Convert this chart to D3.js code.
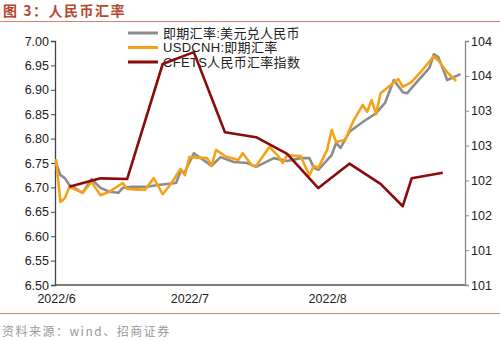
<!DOCTYPE html>
<html><head><meta charset="utf-8">
<script src="https://cdn.jsdelivr.net/npm/d3@7"></script>
<style>body{margin:0;background:#fff}svg{display:block}</style>
</head><body>
<svg id="c" width="500" height="341"></svg>
<script>
// ---- data ----
const spotDates = ["2022-06-01","2022-06-02","2022-06-03","2022-06-04","2022-06-07","2022-06-09","2022-06-11","2022-06-13","2022-06-15","2022-06-16","2022-06-18","2022-06-21","2022-06-24","2022-06-28","2022-06-29","2022-06-30","2022-07-02","2022-07-06","2022-07-08","2022-07-11","2022-07-14","2022-07-16","2022-07-20","2022-07-23","2022-07-26","2022-07-28","2022-07-29","2022-07-30","2022-08-02","2022-08-03","2022-08-04","2022-08-06","2022-08-09","2022-08-12","2022-08-14","2022-08-16","2022-08-18","2022-08-19","2022-08-20","2022-08-24","2022-08-25","2022-08-26","2022-08-28","2022-08-31"];
const spotValues = [6.750,6.725,6.719,6.705,6.689,6.717,6.699,6.691,6.689,6.699,6.701,6.701,6.705,6.709,6.732,6.732,6.770,6.744,6.762,6.752,6.750,6.742,6.760,6.754,6.760,6.760,6.740,6.736,6.766,6.791,6.781,6.814,6.834,6.852,6.873,6.920,6.895,6.893,6.904,6.945,6.973,6.967,6.920,6.932];
const cnhDates = ["2022-06-01","2022-06-02","2022-06-03","2022-06-04","2022-06-07","2022-06-09","2022-06-11","2022-06-13","2022-06-16","2022-06-17","2022-06-21","2022-06-23","2022-06-25","2022-06-27","2022-06-29","2022-06-30","2022-07-01","2022-07-05","2022-07-06","2022-07-07","2022-07-09","2022-07-12","2022-07-13","2022-07-15","2022-07-16","2022-07-19","2022-07-21","2022-07-22","2022-07-23","2022-07-26","2022-07-28","2022-07-29","2022-07-30","2022-08-01","2022-08-02","2022-08-03","2022-08-05","2022-08-07","2022-08-09","2022-08-10","2022-08-11","2022-08-12","2022-08-13","2022-08-17","2022-08-18","2022-08-20","2022-08-22","2022-08-25","2022-08-26","2022-08-28","2022-08-30"];
const cnhValues = [6.758,6.670,6.678,6.701,6.689,6.711,6.684,6.691,6.709,6.697,6.695,6.719,6.686,6.709,6.738,6.725,6.762,6.760,6.744,6.777,6.764,6.756,6.770,6.746,6.744,6.783,6.764,6.750,6.766,6.764,6.725,6.744,6.740,6.777,6.818,6.793,6.797,6.838,6.869,6.855,6.879,6.850,6.893,6.922,6.906,6.916,6.936,6.969,6.960,6.936,6.918];
const cfetsDates = ["2022-06-04","2022-06-11","2022-06-17","2022-06-25","2022-07-02","2022-07-09","2022-07-16","2022-07-23","2022-07-30","2022-08-06","2022-08-13","2022-08-18","2022-08-20","2022-08-27"];
const cfetsValues = [101.91,102.03,102.02,103.67,103.84,102.69,102.62,102.38,101.89,102.24,101.95,101.63,102.03,102.11];

const leftTicks = [6.50,6.55,6.60,6.65,6.70,6.75,6.80,6.85,6.90,6.95,7.00];
const rightTicks = [100.5,101,101.5,102,102.5,103,103.5,104];
const rightTickLabels = ["101","101","102","102","103","103","104","104"];
const xTickDates = ["2022-06-01","2022-07-01","2022-08-01"];
const xTickLabels = ["2022/6","2022/7","2022/8"];
const seriesNames = ["即期汇率:美元兑人民币","USDCNH:即期汇率","CFETS人民币汇率指数"];
const seriesColors = ["#8c8c8c","#f5a21b","#8b0a0a"];

// ---- chart ----
const svg = d3.select("#c");
const parse = d3.utcParse("%Y-%m-%d");
const L = 55, R = 465, T = 41, B = 285;
const x = d3.scaleUtc().domain([parse("2022-06-01"), parse("2022-09-01")]).range([L + 1, R]);
const yL = d3.scaleLinear().domain([6.5, 7.0]).range([B, T]);
const yR = d3.scaleLinear().domain([100.5, 104]).range([B, T]);
const font = "'Liberation Sans', Arial, 'Noto Sans CJK SC', sans-serif";

// title
svg.append("text").attr("x", 3).attr("y", 16).attr("fill", "#b5472e")
  .attr("font-family", "'Noto Sans CJK SC', sans-serif").attr("font-size", 14).attr("font-weight", "bold")
  .attr("letter-spacing", 1.5).text("图 3：人民币汇率");
svg.append("line").attr("x1", 0).attr("x2", 500).attr("y1", 21.5).attr("y2", 21.5).attr("stroke", "#d9826a").attr("stroke-width", 1);
svg.append("line").attr("x1", 0).attr("x2", 500).attr("y1", 313.5).attr("y2", 313.5).attr("stroke", "#d9826a").attr("stroke-width", 1);
svg.append("text").attr("x", 2).attr("y", 336).attr("fill", "#9a9a9a")
  .attr("font-family", "'Noto Sans CJK SC', sans-serif").attr("font-size", 12).attr("letter-spacing", 1.5)
  .text("资料来源：wind、招商证券");

// left axis
const gL = svg.append("g").attr("transform", `translate(${L},0)`)
  .call(d3.axisLeft(yL).tickValues(leftTicks).tickFormat(d3.format(".2f")).tickSizeOuter(0).tickSize(4));
gL.select(".domain").attr("stroke", "#444").attr("stroke-width", 1.3);
gL.selectAll(".tick line").attr("stroke", "#444");
gL.selectAll("text").attr("font-family", font).attr("font-size", 12.5).attr("fill", "#222").attr("x", -6);

// right axis
const gR = svg.append("g").attr("transform", `translate(${R},0)`)
  .call(d3.axisRight(yR).tickValues(rightTicks).tickFormat((d, i) => rightTickLabels[i]).tickSizeOuter(0).tickSize(4));
gR.select(".domain").attr("stroke", "#888").attr("stroke-width", 1.3);
gR.selectAll(".tick line").attr("stroke", "#888");
gR.selectAll("text").attr("font-family", font).attr("font-size", 12.5).attr("fill", "#222").attr("x", 6);

// bottom axis
const gB = svg.append("g").attr("transform", `translate(0,${B})`)
  .call(d3.axisBottom(x).tickValues(xTickDates.map(parse)).tickFormat((d, i) => xTickLabels[i]).tickSize(0).tickSizeOuter(0));
gB.select(".domain").attr("d", `M${L},0H${R}`).attr("stroke", "#555").attr("stroke-width", 1.3);
gB.selectAll("text").attr("font-family", font).attr("font-size", 12.5).attr("fill", "#222").attr("dy", "1.2em");

// legend
const lg = svg.append("g");
seriesNames.forEach((n, i) => {
  const yy = 33 + i * 14.5;
  lg.append("line").attr("x1", 128).attr("x2", 158).attr("y1", yy).attr("y2", yy)
    .attr("stroke", seriesColors[i]).attr("stroke-width", 3);
  lg.append("text").attr("x", 163).attr("y", yy + 4.5).attr("font-family", font)
    .attr("font-size", 13).attr("letter-spacing", 0.3).attr("fill", "#222").text(n);
});

// lines
const mk = (ds, vs) => ds.map((d, i) => ({ d: parse(d), v: vs[i] }));
const lineL = d3.line().x(p => x(p.d)).y(p => yL(p.v));
const lineR = d3.line().x(p => x(p.d)).y(p => yR(p.v));
svg.append("path").datum(mk(spotDates, spotValues)).attr("d", lineL)
  .attr("fill", "none").attr("stroke", seriesColors[0]).attr("stroke-width", 2.6).attr("stroke-linejoin", "round");
svg.append("path").datum(mk(cnhDates, cnhValues)).attr("d", lineL)
  .attr("fill", "none").attr("stroke", seriesColors[1]).attr("stroke-width", 2.6).attr("stroke-linejoin", "round");
svg.append("path").datum(mk(cfetsDates, cfetsValues)).attr("d", lineR)
  .attr("fill", "none").attr("stroke", seriesColors[2]).attr("stroke-width", 2.6).attr("stroke-linejoin", "round");
</script>
</body></html>
